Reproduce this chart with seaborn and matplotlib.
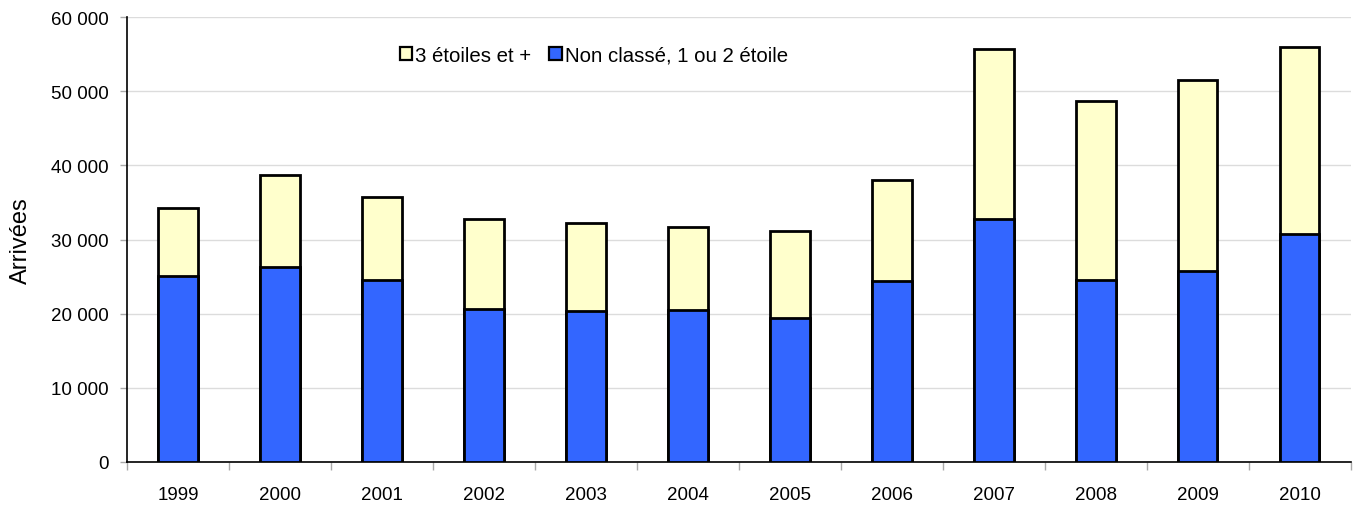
import matplotlib
matplotlib.use("Agg")
import matplotlib.pyplot as plt
from matplotlib.patches import Patch
from matplotlib.ticker import FuncFormatter, FixedLocator
import seaborn as sns
import pandas as pd

years = ["1999", "2000", "2001", "2002", "2003", "2004",
         "2005", "2006", "2007", "2008", "2009", "2010"]
non_classe = [25070, 26370, 24530, 20580, 20350, 20540,
              19460, 24390, 32830, 24530, 25740, 30730]
trois_etoiles = [9210, 12310, 11180, 12170, 11950, 11130,
                 11670, 13710, 22870, 24170, 25740, 25240]

label_haut = "3 étoiles et +"
label_bas = "Non classé, 1 ou 2 étoile"
color_haut = "#FFFFCC"
color_bas = "#3366FF"

df = pd.DataFrame({
    "annee": years,
    "bas": non_classe,
    "total": [a + b for a, b in zip(non_classe, trois_etoiles)],
})

sns.set_theme(style="white")
plt.rcParams["font.family"] = ["Liberation Sans", "DejaVu Sans"]
plt.rcParams["text.color"] = "black"
plt.rcParams["axes.labelcolor"] = "black"

fig = plt.figure(figsize=(13.55, 5.06), dpi=100)
ax = fig.add_axes([0.0937, 0.085, 0.903, 0.879])

bar_kw = dict(width=0.39, edgecolor="black", linewidth=2.0, ax=ax, zorder=3)
sns.barplot(data=df, x="annee", y="total", color=color_haut,
            saturation=1, **bar_kw)
sns.barplot(data=df, x="annee", y="bas", color=color_bas,
            saturation=1, **bar_kw)

ax.set_xlim(-0.5, len(years) - 0.5)
ax.set_ylim(0, 60000)
ax.yaxis.set_major_locator(FixedLocator(range(0, 60001, 10000)))
ax.yaxis.set_major_formatter(
    FuncFormatter(lambda v, p: f"{int(v):,}".replace(",", " ")))

ax.grid(axis="y", color="#dcdcdc", linewidth=1, zorder=0)
ax.set_axisbelow(True)

for side in ("top", "right"):
    ax.spines[side].set_visible(False)
for side in ("left", "bottom"):
    ax.spines[side].set_color("black")
    ax.spines[side].set_linewidth(1.2)

ax.tick_params(axis="y", which="major", left=True, length=5, width=1,
               color="#aaaaaa", labelsize=13.5, pad=8, labelcolor="black")
ax.tick_params(axis="x", which="major", length=0, labelsize=13.5, pad=17,
               labelcolor="black")
ax.set_xticks([i - 0.5 for i in range(len(years) + 1)], minor=True)
ax.tick_params(axis="x", which="minor", bottom=True, length=6, width=1,
               color="#aaaaaa")

ax.set_xlabel("")
ax.set_ylabel("Arrivées", fontsize=17, labelpad=14, color="black")

handles = [Patch(facecolor=color_haut, edgecolor="black", linewidth=1.6),
           Patch(facecolor=color_bas, edgecolor="black", linewidth=1.6)]
ax.legend(handles, [label_haut, label_bas], ncol=2, frameon=False,
          loc="center", bbox_to_anchor=(0.3815, 0.915), fontsize=14.7,
          handlelength=0.6, handleheight=0.6, handletextpad=0.15,
          columnspacing=0.9, labelcolor="black")

fig.savefig("out.png", dpi=100)
